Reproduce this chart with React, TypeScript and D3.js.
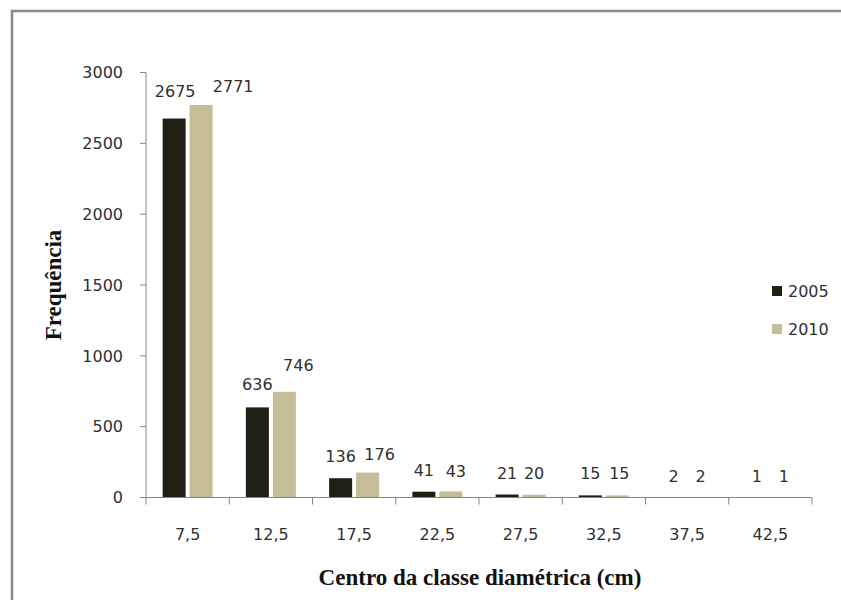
import React from "react";
import * as d3 from "d3";

const categories = ["7,5", "12,5", "17,5", "22,5", "27,5", "32,5", "37,5", "42,5"];
const series2005 = [2675, 636, 136, 41, 21, 15, 2, 1];
const series2010 = [2771, 746, 176, 43, 20, 15, 2, 1];
const seriesNames = ["2005", "2010"];
const yTicks = [0, 500, 1000, 1500, 2000, 2500, 3000];

// label nudges (as placed by the original spreadsheet software)
const labelDx = [
  [1, 0, 0, 0, 0, 0, 0, 0],
  [32, 14, 12, 5, 0, 2, 0, 0],
];
const labelDy = [
  [-6, -1, 0, 0, 0, 0, 0, 0],
  [3, -5, 3, 2, 0, 0, 0, 0],
];

const colors = ["#201f14", "#c4bd97"];

export default function App() {
  const W = 841, H = 600;
  const left = 146, right = 812, top = 72.5, bottom = 497.5;
  const x = d3.scaleBand<string>().domain(categories).range([left, right]).paddingInner(0).paddingOuter(0);
  const y = d3.scaleLinear().domain([0, 3000]).range([bottom, top]);
  const barW = 23;
  const gap = 4;
  const font = "'DejaVu Sans', sans-serif";
  const serif = "'Liberation Serif', 'Times New Roman', serif";
  const data = [series2005, series2010];
  const axisColor = "#868686";
  const textColor = "#303030";

  return (
    <svg width={W} height={H} style={{ position: "absolute", left: 0, top: 0, background: "#fff" }}>
      <rect x={0} y={0} width={W} height={H} fill="#fff" />
      <rect x={12} y={11} width={W + 200} height={H + 200} fill="none" stroke="#8a8a8a" strokeWidth={2.5} />
      {/* bars */}
      {data.map((vals, si) =>
        vals.map((v, i) => {
          const c = (x(categories[i]) as number) + x.bandwidth() / 2;
          const bx = si === 0 ? c - gap / 2 - barW : c + gap / 2;
          return (
            <rect key={`b${si}-${i}`} x={bx} y={y(v)} width={barW} height={Math.max(0, y(0) - y(v))} fill={colors[si]} />
          );
        })
      )}
      {/* data labels */}
      {data.map((vals, si) =>
        vals.map((v, i) => {
          const c = (x(categories[i]) as number) + x.bandwidth() / 2;
          const bx = si === 0 ? c - gap / 2 - barW / 2 : c + gap / 2 + barW / 2;
          const by = Math.min(y(v) - 16, 479) + labelDy[si][i] + (v < 5 ? 2.5 : 0);
          return (
            <text key={`l${si}-${i}`} x={bx + labelDx[si][i]} y={by} textAnchor="middle" fontFamily={font} fontSize={16} fill={textColor}>
              {v}
            </text>
          );
        })
      )}
      {/* y axis */}
      <line x1={left} x2={left} y1={top} y2={bottom} stroke={axisColor} strokeWidth={1} />
      {yTicks.map((t) => (
        <g key={`yt${t}`}>
          <line x1={left - 6} x2={left} y1={y(t)} y2={y(t)} stroke={axisColor} />
          <text x={123} y={y(t)} dy="0.36em" textAnchor="end" fontFamily={font} fontSize={16} fill={textColor}>
            {t}
          </text>
        </g>
      ))}
      {/* x axis */}
      <line x1={left} x2={right} y1={bottom} y2={bottom} stroke={axisColor} strokeWidth={1} />
      {[...categories.map((c) => x(c) as number), right].map((px, i) => (
        <line key={`xt${i}`} x1={px} x2={px} y1={bottom} y2={bottom + 7} stroke={axisColor} />
      ))}
      {categories.map((c) => (
        <text key={`xl${c}`} x={(x(c) as number) + x.bandwidth() / 2} y={540} textAnchor="middle" fontFamily={font} fontSize={16} fill={textColor}>
          {c}
        </text>
      ))}
      {/* axis titles */}
      <text x={480} y={585} textAnchor="middle" fontFamily={serif} fontWeight="bold" fontSize={23} fill="#111">
        Centro da classe diamétrica (cm)
      </text>
      <text transform={`translate(61,285) rotate(-90)`} textAnchor="middle" fontFamily={serif} fontWeight="bold" fontSize={23} fill="#111">
        Frequência
      </text>
      {/* legend */}
      {seriesNames.map((n, i) => (
        <g key={`lg${n}`}>
          <rect x={772} y={286 + i * 38} width={10} height={10} fill={colors[i]} />
          <text x={788} y={291 + i * 38} dy="0.36em" fontFamily={font} fontSize={16} fill={textColor}>
            {n}
          </text>
        </g>
      ))}
    </svg>
  );
}
